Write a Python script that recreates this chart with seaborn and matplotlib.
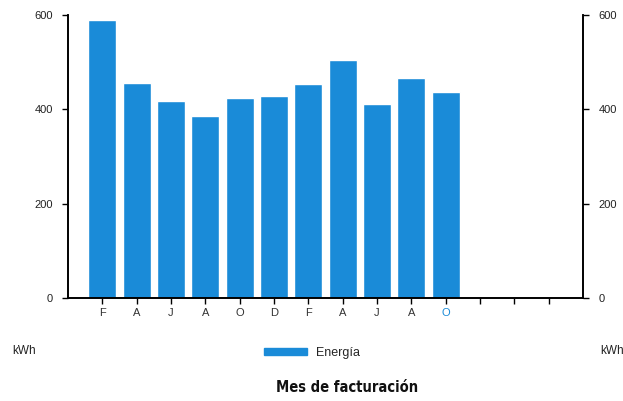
import matplotlib
matplotlib.use("Agg")
import matplotlib.pyplot as plt
import seaborn as sns
from matplotlib.patches import Patch

# Data
months = ["F", "A", "J", "A", "O", "D", "F", "A", "J", "A", "O"]
energy_kwh = [588, 455, 418, 386, 423, 428, 453, 504, 411, 467, 436]
empty_slots = 3
y_ticks = [0, 200, 400, 600]

bar_color = "#1a8bd8"

sns.set_theme(style="white")
plt.rcParams["font.family"] = ["Liberation Sans", "DejaVu Sans"]

fig = plt.figure(figsize=(6.23, 4.01), dpi=100)
ax = fig.add_axes([0.109, 0.257, 0.827, 0.706])

positions = list(range(len(months)))
sns.barplot(x=positions, y=energy_kwh, native_scale=True, color=bar_color,
            saturation=1, width=0.82, ax=ax)

n_slots = len(months) + empty_slots
ax.set_xlim(-1, n_slots)
ax.set_ylim(0, 600)
ax.set_xticks(range(n_slots))
ax.set_xticklabels(months + [""] * empty_slots, fontsize=8, color="#333333")
ax.get_xticklabels()[len(months) - 1].set_color(bar_color)
ax.set_yticks(y_ticks)
ax.set_yticklabels([str(v) for v in y_ticks], fontsize=8, color="#222222")
ax.set_xlabel("")
ax.set_ylabel("")

ax2 = ax.twinx()
ax2.set_ylim(0, 600)
ax2.set_yticks(y_ticks)
ax2.set_yticklabels([str(v) for v in y_ticks], fontsize=8, color="#222222")

for a in (ax, ax2):
    a.spines["top"].set_visible(False)
    for s in ("left", "right", "bottom"):
        a.spines[s].set_color("black")
        a.spines[s].set_linewidth(1.2)
    a.tick_params(axis="y", direction="out", length=4, width=1, color="black",
                  left=(a is ax), right=(a is ax2), pad=7)
ax.tick_params(axis="x", direction="out", length=4, width=1, color="black",
               bottom=True, pad=3)

fig.text(12 / 623, 1 - 351 / 401, "kWh", fontsize=8.5, color="#222222", va="center")
fig.text(600 / 623, 1 - 351 / 401, "kWh", fontsize=8.5, color="#222222", va="center")

fig.legend(handles=[Patch(color=bar_color, label="Energía")],
           loc="center", bbox_to_anchor=(312 / 623, 1 - 353 / 401),
           frameon=False, fontsize=9, handlelength=3.4, handleheight=0.5,
           handletextpad=0.7)

fig.text(347 / 623, 1 - 387 / 401, "Mes de facturación", fontsize=10.5,
         fontweight="bold", fontstretch="condensed", ha="center", va="center",
         color="#111111", family=["DejaVu Sans"])

fig.savefig("out.png", dpi=100)
